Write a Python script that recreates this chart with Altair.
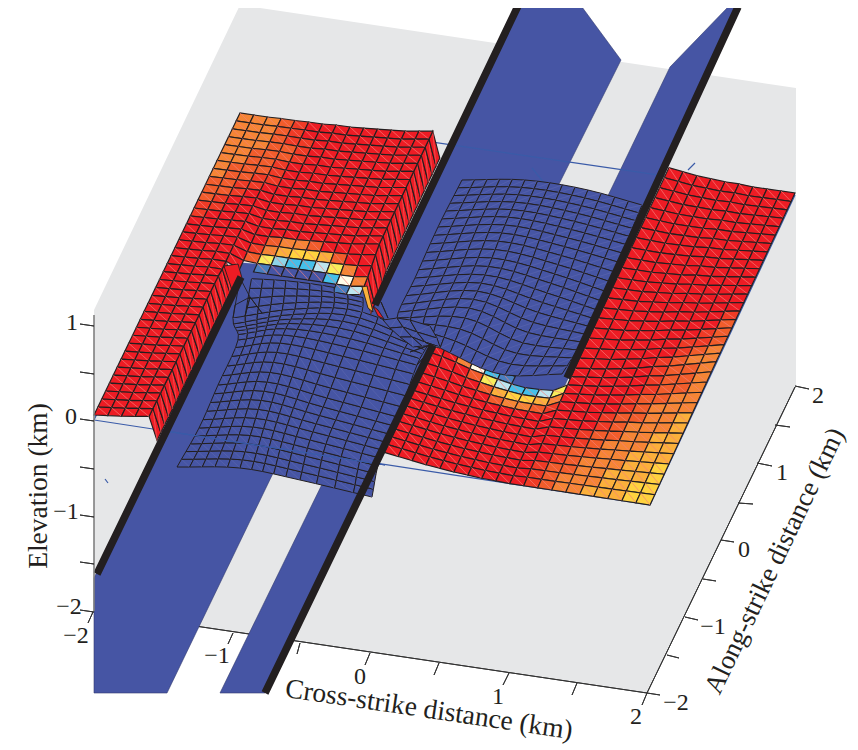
import altair as alt
import numpy as np
import pandas as pd

alt.data_transformers.disable_max_rows()

# ---------- palette ----------
PAL = dict(R="#ED1C24", r="#EF3B26", o="#F15D2B", O="#F58535", A="#FBB03B", Y="#FFD23F",
           y="#F8EC5A", w="#FFFDE8", c="#BDE5EF", C="#8DD4E8", b="#45C0EA", B="#4A7FBF", D="#4655A4")
BLUE, GRAY, INK, OUT = "#4655A4", "#E6E7E8", "#231F20", "#3A5BA8"

# ---------- z=0 plane corners as seen on the page ----------
PLANE = [(94, 420), (650, 505), (795, 195), (240, 114)]
FLOOR = [(94, 310), (240, 5), (796, 88), (796, 387), (647, 693), (94, 611)]
SLAB_LOW = [(94, 578), (243, 275), (380, 320), (433, 345), (265, 693), (220, 693), (329, 470), (277, 465), (167, 693), (94, 693)]
SLAB_UP = [(518, 6), (582, 7), (621, 60), (552, 198), (603, 206), (670, 67), (728, 7), (738, 7), (565, 385), (522, 405), (470, 382), (433, 345), (370, 315)]
SLAB_NOTCH = [(232, 262), (372, 272), (380, 320), (240, 310)]
FAULTS = [[(97, 574), (241, 277)], [(375, 305), (518, 6)], [(265, 693), (433, 345)], [(567, 378), (738, 7)]]

# ---------- plateau colours: rows 37..0, columns 0..13 ----------
PLATEAU = ["OOOorRRRRRRRRR", "OOOorRRRRRRRRR", "OOOorrRRRRRRRR", "OOOoorRRRRRRRR", "OOooorRRRRRRRR",
           "OOoorRRRRRRRRR", "OooorRRRRRRRRR", "OoorrRRRRRRRRR", "oorrRRRRRRRRRR",
           "oorRRRRRRRRRRR", "orRRRRRRRRRRRR", "rrRRRRRRRRRRRR", "rRRRRRRRRRRRRR",
           "RRRRRRRRRRRRRR", "RRRRRRoOOoRRRR", "RRRRRrOAYYAoRR", "RRRRRoyCbbcyOR", "RRRRR.BDDDDbwO",
           "RRRR........Bc"] + ["RRRR.........."] * 19
PLATEAU_ROWS = 38
PLATEAU_LIFT_FRONT = [5, 6.5, 8, 10, 12]
PLATEAU_LIFT_BACK = [1, 1, 1, 1.5, 1.5, 2, 2, 3, 3, 4, 5, 6, 7, 9, 11]
PLATEAU_BEND = [0, 0, 0, 0, 1, 2, 3, 4, 4, 5, 6, 7, 8, 10, 10]
PLATEAU_BEND_ROW = {19: 1.0, 20: 1.0, 21: .85, 22: .55, 23: .25}

# ---------- right panel colours: rows 33..0, columns 21..39 ----------
PANEL = ["..........RRRRRRRRR"] * 14 + [
    "..........RRRRRRRRr", "..........RRRRRRRRo", "..........RRRRRRRro", "..........RRRRRRrro", "..........RRRRRRroO",
    "..........RRRRRroOO",
    ".yC.......RRRRRrooO", "RROwbB....RRRRRrooO", "RRRoycbbcyRRRRRrooO", "RRRRoAYYAORRRRrooOO",
    "RRRRRoOOorRRRRroOOO", "RRRRRRRRRRRRRrooOOA", "RRRRRRRRRRRRRroOOOA", "RRRRRRRRRRRRrooOOAA",
    "RRRRRRRRRRRRroOOOAA", "RRRRRRRRRRRrooOOAAA", "RRRRRRRRRRRroOOOAAY", "RRRRRRRRRRrooOOAAAY",
    "RRRRRRRRRRroOOOAAYY", "RRRRRRRRRRroOOAAAYY"]
PANEL_ROWS = 34
PANEL_FRONT_ROWS = 14
PANEL_LIFT_FRONT = [12, 10, 8, 6, 4.5, 3, 2, 1, .5, 0, 0]
PANEL_LIFT_BACK = [9, 7, 5, 4, 3, 3, 2, 2, 2, 2]
PANEL_BEND = [-10, -9, -7, -4, -2, 0, 2, 3, 2, 0, -3]
PANEL_BEND_ROW = {14: 1.0, 13: 1.0, 12: .8, 11: .5, 10: .25, 9: .1}

# ---------- blue basin: control points ----------
LOW_ROWS, LOW_COLS = [0, 5, 10, 15, 20, 24], [0, 5, 10, 14]
LOW_CTRL = [[(177, 467), (240, 468), (300, 480), (372, 497)],
            [(199, 428), (253, 427), (310, 440), (380, 458)],
            [(218, 385), (267, 382), (327, 398), (398, 417)],
            [(238, 340), (283, 335), (347, 347), (417, 365)],
            [(233, 318), (295, 309), (362, 312), (430, 340)],
            [(240, 278), (298, 282), (363, 293), (440, 310)]]
UP_ROWS, UP_COLS = [0, 6, 12, 17, 20], [0, 5, 10, 14]
UP_CTRL = [[(462, 180), (525, 180), (588, 190), (642, 205)],
           [(438, 227), (505, 225), (568, 238), (622, 253)],
           [(415, 278), (485, 275), (547, 293), (597, 310)],
           [(397, 318), (465, 318), (523, 343), (577, 350)],
           [(403, 327), (450, 353), (505, 375), (562, 374)]]
NECK_CTRL = [[(383, 320), (397, 318), (410, 320), (430, 326)],
             [(390, 328), (403, 327), (417, 332), (437, 338)],
             [(400, 337), (412, 337), (425, 342), (440, 347)],
             [(413, 347), (422, 346), (432, 346), (440, 348)]]
TANGLE = [[(240, 278), (250, 297), (235, 305), (233, 318)], [(250, 297), (262, 313)], [(250, 297), (245, 316)],
          [(417, 365), (430, 350)], [(410, 352), (430, 345)], [(381, 302), (388, 318)]]
SMALL = [([(362, 287), (367, 286), (373, 312), (368, 308)], "A"), ([(373, 306), (378, 310), (384, 319), (378, 316)], "R"),
         ([(224, 266), (238, 264), (242, 278), (232, 290)], "R")]

# ---------- axes ----------
Z_TICKS = [(80, 324, 94, 326), (80, 372, 94, 374), (80, 419, 94, 421), (80, 467, 94, 469), (80, 515, 94, 517), (80, 562, 94, 564), (80, 610, 94, 612)]
X_TICKS = [(93, 612, 88, 623), (233, 633, 228, 644), (300, 643, 297, 654), (370, 653, 365, 665), (439, 663, 434, 675),
           (509, 673, 503, 685), (577, 683, 572, 695), (647, 693, 642, 705)]
Y_TICKS = [(647, 693, 660, 695), (667, 655, 679, 658), (685, 617, 698, 620), (703, 579, 716, 581), (721, 540, 734, 542),
           (738, 503, 753, 504), (757, 463, 772, 466), (775, 425, 790, 427), (795, 386, 809, 389)]
AXES = [[(94, 315), (94, 611)], [(94, 611), (647, 693)], [(647, 693), (795, 387)]]
STRAY = [[(105, 479), (108, 483)], [(688, 170), (695, 163)], [(532, 168), (550, 190)]]
LABELS = [("1", 72, 323, 0, 24), ("0", 71, 417, 0, 24), ("\u22121", 66, 512, 0, 24), ("\u22122", 69, 607, 0, 24),
          ("\u22122", 76, 636, 0, 24), ("\u22121", 217, 656, 0, 24), ("0", 360, 677, 0, 24), ("1", 498, 697, 0, 24), ("2", 636, 717, 0, 24),
          ("\u22122", 676, 703, 0, 24), ("\u22121", 713, 627, 0, 24), ("0", 744, 550, 0, 24), ("1", 782, 473, 0, 24), ("2", 818, 396, 0, 24),
          ("Elevation (km)", 39, 486, 270, 27.5), ("Cross-strike distance (km)", 429, 710, 8.4, 27.5),
          ("Along-strike distance (km)", 775, 561, 295.5, 27)]


# ---------- projection helpers ----------
def homography(dst):
    src = [(0, 0), (40, 0), (40, 40), (0, 40)]
    A, b = [], []
    for (u, v), (x, y) in zip(src, dst):
        A.append([u, v, 1, 0, 0, 0, -u * x, -v * x]); b.append(x)
        A.append([0, 0, 0, u, v, 1, -u * y, -v * y]); b.append(y)
    return np.append(np.linalg.solve(np.array(A, float), np.array(b, float)), 1).reshape(3, 3)


HM = homography(PLANE)


def plane(u, v, lift=0.0, dy=0.0):
    p = HM @ np.array([u, v, 1.0])
    return (p[0] / p[2], p[1] / p[2] - lift + dy)


def hermite(knots, vals, t):
    vals = np.asarray(vals, float)
    g = np.gradient(vals, knots, axis=0, edge_order=1)
    i = min(np.searchsorted(knots, t, side="right") - 1, len(knots) - 2)
    h = knots[i + 1] - knots[i]
    s = (t - knots[i]) / h
    return ((2 * s**3 - 3 * s**2 + 1) * vals[i] + (s**3 - 2 * s**2 + s) * h * g[i]
            + (-2 * s**3 + 3 * s**2) * vals[i + 1] + (s**3 - s**2) * h * g[i + 1])


def mesh(ctrl, rows, cols):
    ctrl = np.array(ctrl, float)
    nr, nc = rows[-1], cols[-1]
    out = np.zeros((nr + 1, nc + 1, 2))
    for r in range(nr + 1):
        line = np.array([hermite(rows, ctrl[:, c], r) for c in range(len(cols))])
        for c in range(nc + 1):
            out[r, c] = hermite(cols, line, c)
    return out


polys = []


def poly(pts, fill="none", stroke="none", sw=0.0):
    pid = len(polys)
    polys.append((pid, pts, fill, stroke, sw))


def cell(a, b, c, d, color, diag, sw=1.15):
    poly([a, b, c, d], color, INK, sw)
    poly([d, b], "none", diag, 0.4)


# ---------- painter's order ----------
poly(FLOOR, GRAY)
for seg in AXES[1:]:
    poly(seg, "none", "#333333", 1.0)
for t in X_TICKS + Y_TICKS:
    poly([(t[0], t[1]), (t[2], t[3])], "none", "#333333", 1.0)
poly(SLAB_LOW, BLUE, "#333A6E", 0.6)
poly(SLAB_UP, BLUE, "#333A6E", 0.6)
poly(SLAB_NOTCH, BLUE)
for seg in [[PLANE[0], PLANE[1]], [PLANE[1], PLANE[2]], [PLANE[2], PLANE[3]], [PLANE[3], PLANE[0]]] + STRAY:
    poly(seg, "none", OUT, 1.2)


def plateau_v(c, j):
    v = j * 40 / PLATEAU_ROWS
    dy = PLATEAU_BEND[c] * PLATEAU_BEND_ROW.get(j, 0)
    if c <= 4:
        t = j / PLATEAU_ROWS
        back = PLATEAU_LIFT_BACK[c]
        return plane(c, v, PLATEAU_LIFT_FRONT[c] * (1 - t) + back * t, dy)
    return plane(c, v, PLATEAU_LIFT_BACK[c], dy)


def panel_v(c, j):
    s = 1 + 0.3 * max(c - 31, 0) / 9
    f = PANEL_FRONT_ROWS
    v = j * s if j <= f else f * s + (j - f) * (40 - f * s) / (PANEL_ROWS - f)
    if c >= 31:
        k = c - 31
        back = PANEL_LIFT_BACK[k]
        front = PANEL_LIFT_FRONT[c - 21] if c - 21 < len(PANEL_LIFT_FRONT) else 0
        return plane(c, v, front + (back - front) * min(j, f) / f)
    return plane(c, v, PANEL_LIFT_FRONT[c - 21], PANEL_BEND[c - 21] * PANEL_BEND_ROW.get(j, 0))


# walls
for j in range(0, 20):
    a, b = plateau_v(4, j), plateau_v(4, j + 1)
    cell(a, b, (b[0] + 8, b[1] + 24), (a[0] + 8, a[1] + 24), PAL["R"], "#F4605F")
for j in range(20, PLATEAU_ROWS):
    a, b = plateau_v(14, j), plateau_v(14, j + 1)
    cell(a, b, (b[0] + 7, b[1] + 27), (a[0] + 7, a[1] + 27), PAL["R"], "#F4605F")

# plateau top
for ri, row in enumerate(PLATEAU):
    j = PLATEAU_ROWS - 1 - ri
    for c, ch in enumerate(row):
        if ch != ".":
            cell(plateau_v(c, j), plateau_v(c + 1, j), plateau_v(c + 1, j + 1), plateau_v(c, j + 1), PAL[ch], "#F6807C")

# right panel
for ri, row in enumerate(PANEL):
    j = PANEL_ROWS - 1 - ri
    for k, ch in enumerate(row):
        c = 21 + k
        if ch != ".":
            cell(panel_v(c, j), panel_v(c + 1, j), panel_v(c + 1, j + 1), panel_v(c, j + 1), PAL[ch], "#F6807C")

for pts, key in SMALL:
    poly(pts, PAL[key], INK, 0.9)

# blue basin
low = mesh(LOW_CTRL, LOW_ROWS, LOW_COLS)
up = mesh(UP_CTRL, UP_ROWS, UP_COLS)
neck = mesh(NECK_CTRL, [0, 1, 2, 3], [0, 1, 2, 3])
for name, m in (("up", up), ("low", low), ("neck", neck)):
    for r in range(m.shape[0] - 1):
        for c in range(m.shape[1] - 1):
            if name == "low" and r >= 20 and (c >= 10 or c == 0):
                continue
            if name == "low" and r == 23 and c >= 8:
                continue
            cell(tuple(m[r, c]), tuple(m[r, c + 1]), tuple(m[r + 1, c + 1]), tuple(m[r + 1, c]), BLUE, "#5A66AE", 1.0)
for seg in TANGLE:
    poly(seg, "none", INK, 0.9)
poly([(165, 431), (385, 465)], "none", OUT, 1.0)

# fault traces
for seg in FAULTS:
    poly(seg, "none", INK, 7.5)

# axes
poly(AXES[0], "none", "#808080", 1.6)
for t in Z_TICKS:
    poly([(t[0], t[1]), (t[2], t[3])], "none", "#333333", 1.0)

records = []
for pid, pts, fill, stroke, sw in polys:
    for k, (x, y) in enumerate(pts):
        records.append(dict(id=pid, k=k, x=float(x), y=float(y), fill=fill, stroke=stroke, sw=sw))
df = pd.DataFrame(records)

X = alt.X("x:Q", scale=alt.Scale(domain=[8, 850], nice=False, zero=False), axis=None)
Y = alt.Y("y:Q", scale=alt.Scale(domain=[8, 748], reverse=True, nice=False, zero=False), axis=None)

shapes = alt.Chart(df).mark_line(interpolate="linear-closed").encode(
    x=X, y=Y, detail="id:N", order="k:Q",
    fill=alt.Fill("fill:N", scale=None),
    stroke=alt.Stroke("stroke:N", scale=None),
    strokeWidth=alt.StrokeWidth("sw:Q", scale=None),
)

labels = pd.DataFrame(LABELS, columns=["t", "x", "y", "a", "s"])
text = alt.Chart(labels).mark_text(font="Liberation Serif", color="#231F20", baseline="middle", align="center").encode(
    x=X, y=Y, text="t:N",
    angle=alt.Angle("a:Q", scale=None),
    size=alt.Size("s:Q", scale=None),
)

chart = alt.layer(shapes, text).properties(
    width=842, height=740, padding=0, autosize=alt.AutoSizeParams(type="none")
).configure_view(stroke=None)

chart.save("out.html", embed_options={"renderer": "svg", "actions": False})
